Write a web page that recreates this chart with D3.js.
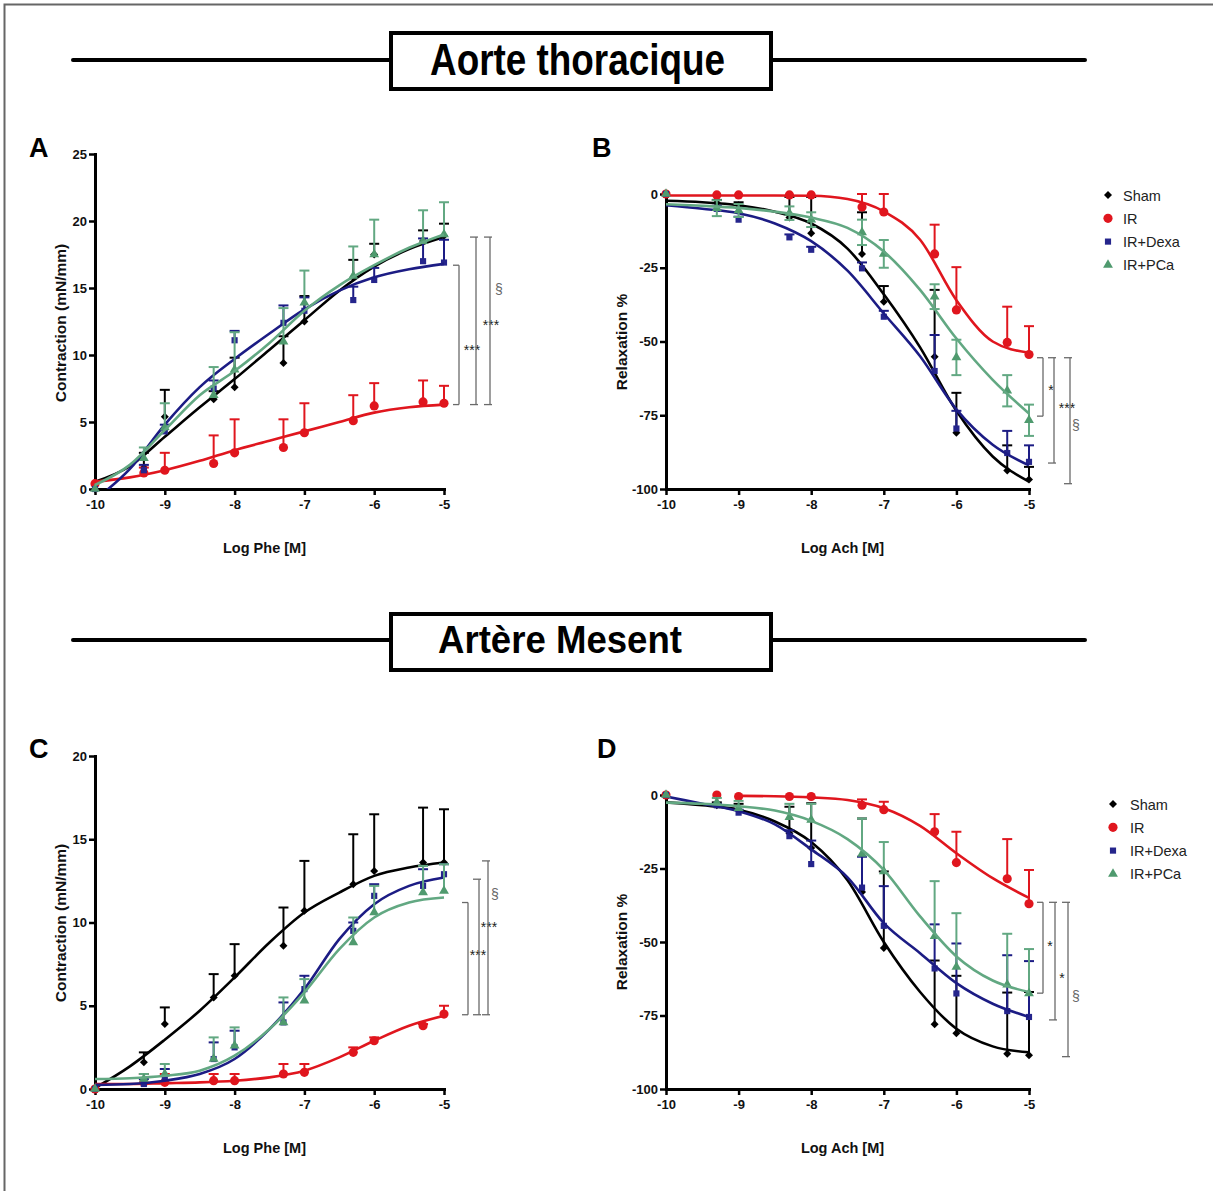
<!DOCTYPE html>
<html><head><meta charset="utf-8">
<script src="https://cdn.jsdelivr.net/npm/d3@7"></script>
<style>
body{margin:0;background:#fff}
text{font-family:"Liberation Sans",Arial,Helvetica,sans-serif}
</style>
</head><body>
<svg id="c" width="1213" height="1191"></svg>
<script>
// ---------------- DATA ----------------
const seriesNames = ["Sham", "IR", "IR+Dexa", "IR+PCa"];
const sectionTitles = ["Aorte thoracique", "Artère Mesent"];
const panelLetters = ["A", "B", "C", "D"];
const xTicks = [-10, -9, -8, -7, -6, -5];
const doseX = [-10, -9.3, -9, -8.3, -8, -7.3, -7, -6.3, -6, -5.3, -5];
const fitX = [-10, -9.5, -9, -8.5, -8, -7.5, -7, -6.5, -6, -5.5, -5];
const yTicksContrA = [0, 5, 10, 15, 20, 25];
const yTicksContrC = [0, 5, 10, 15, 20];
const yTicksRelax = [0, -25, -50, -75, -100];

// Panel A : contraction, aorta (mN/mm)
const aSham = [0, 1.6, 5.4, 6.7, 7.6, 9.4, 12.5, 15.8, 17.5, 18.5, 18.9];
const aShamSem = [0, 1.1, 2.0, 0.6, 2.2, 2.0, 1.9, 1.3, 0.8, 0.8, 0.9];
const aIR = [0.4, 1.2, 1.4, 1.9, 2.7, 3.1, 4.2, 5.1, 6.2, 6.5, 6.4];
const aIRSem = [0, 0.4, 1.3, 2.1, 2.5, 2.1, 2.2, 1.9, 1.7, 1.6, 1.3];
const aDexa = [0, 1.4, 4.3, 7.5, 11.1, 12.4, 13.3, 14.1, 15.6, 17.0, 16.9];
const aDexaSem = [0, 0.4, 0.5, 0.6, 0.7, 1.3, 1.0, 1.0, 0.9, 1.7, 1.7];
const aPCa = [0, 2.3, 4.6, 7.0, 8.9, 11.0, 13.9, 15.9, 17.5, 18.5, 19.0];
const aPCaSem = [0, 0.8, 1.8, 2.1, 2.8, 2.5, 2.4, 2.2, 2.6, 2.3, 2.4];
const aShamFit = [0.55, 1.7, 3.9, 6.1, 8.2, 10.4, 12.6, 14.8, 16.6, 17.9, 18.8];
const aIRFit = [0.55, 0.87, 1.4, 2.1, 2.9, 3.6, 4.3, 5.0, 5.7, 6.1, 6.3];
const aDexaFit = [-0.8, 1.5, 4.8, 7.6, 9.7, 11.6, 13.4, 14.8, 15.8, 16.4, 16.8];
const aPCaFit = [0.3, 1.8, 4.4, 7.0, 8.8, 10.9, 13.3, 15.2, 16.7, 18.0, 19.0];

// Panel B : relaxation, aorta (%)
const bSham = [0, -3, -3.8, -8, -13.3, -20.3, -36.5, -55.2, -80.9, -93.7, -96.8];
const bShamSem = [0, 1, 1, 7, 12.3, 14.1, 5.3, 22.7, 13.5, 8.5, 4.3];
const bIR = [0, -0.3, -0.3, -0.3, -0.3, -4.4, -6.1, -20.3, -39.3, -50.3, -54.4];
const bIRSem = [0, 0, 0, 0, 0, 4.4, 6.1, 9.9, 14.5, 12.1, 9.6];
const bDexa = [0, -5, -8.7, -14.7, -18.9, -25.2, -41.6, -60, -79.5, -87.8, -90.8];
const bDexaSem = [0, 1, 1, 1, 1, 2, 2, 12.2, 6, 7.5, 5.6];
const bPCa = [0, -4.8, -5.6, -6.5, -8.7, -13, -20.3, -34.8, -55.4, -66.7, -76.7];
const bPCaSem = [0, 2.7, 2.2, 2.3, 2.5, 4.3, 4.7, 4.2, 6, 5.3, 5.3];
const bShamFit = [-2.3, -2.8, -3.8, -6, -10, -18.5, -34, -52, -73.5, -89, -97.5];
const bIRFit = [-0.5, -0.5, -0.5, -0.5, -0.6, -1.7, -5.9, -15.5, -36, -50, -53.8];
const bDexaFit = [-3.8, -5, -6.5, -10, -16, -26, -40.5, -55, -73, -85, -92];
const bPCaFit = [-3.5, -4, -4.7, -6, -8, -11.5, -19.5, -32.5, -49, -63, -74.4];

// Panel C : contraction, mesenteric artery (mN/mm)
const cSham = [0, 1.6, 3.9, 5.5, 6.8, 8.6, 10.7, 12.3, 13.1, 13.6, 13.6];
const cShamSem = [0, 0.6, 1.0, 1.4, 1.9, 2.3, 3.0, 3.0, 3.4, 3.3, 3.2];
const cIR = [0, 0.4, 0.4, 0.5, 0.5, 0.9, 1.0, 2.2, 2.9, 3.8, 4.5];
const cIRSem = [0, 0.5, 0.5, 0.4, 0.4, 0.6, 0.5, 0.3, 0.2, 0.1, 0.5];
const cDexa = [0, 0.3, 0.7, 1.8, 2.5, 4.0, 6.0, 9.5, 11.6, 12.2, 12.9];
const cDexaSem = [0, 0.3, 0.5, 1.0, 1.0, 1.2, 0.8, 0.5, 0.7, 1.0, 0.6];
const cPCa = [0, 0.6, 0.9, 1.8, 2.6, 4.0, 5.3, 8.8, 10.6, 11.8, 11.9];
const cPCaSem = [0, 0.3, 0.6, 1.3, 1.1, 1.5, 1.3, 1.5, 1.6, 1.6, 1.6];
const cShamFit = [0.06, 1.36, 2.96, 4.7, 6.7, 8.8, 10.6, 11.8, 12.8, 13.3, 13.6];
const cIRFit = [0.3, 0.3, 0.35, 0.4, 0.5, 0.7, 1.1, 1.9, 2.9, 3.8, 4.4];
const cDexaFit = [0.25, 0.3, 0.5, 0.9, 1.8, 3.6, 6.0, 9.0, 11.1, 12.2, 12.7];
const cPCaFit = [0.6, 0.65, 0.8, 1.1, 2.0, 3.6, 5.8, 8.4, 10.3, 11.2, 11.5];

// Panel D : relaxation, mesenteric artery (%)
const dSham = [0, -3.5, -5, -13, -18, -33, -52, -78, -81, -88, -88.5];
const dShamSem = [0, 1, 2, 9, 15.2, 25, 26, 21.7, 19.5, 20.8, 21.5];
const dIR = [0, 0, -0.5, -0.5, -0.5, -3.5, -5, -12.5, -23, -28.5, -37];
const dIRSem = [0, 0, 0, 0, 0, 2, 2.7, 6, 10.5, 13.5, 11.5];
const dDexa = [0, -3.5, -6, -14, -23.5, -31.5, -44.5, -59, -67.5, -73.5, -75.5];
const dDexaSem = [0, 0.5, 1, 2, 8, 10.5, 13.5, 15, 17, 19, 19];
const dPCa = [0, -2.5, -4.5, -7.5, -8.5, -20, -26, -48, -58.5, -64.5, -67.5];
const dPCaSem = [0, 1.5, 2.5, 4.5, 5.5, 12, 10, 18.7, 18.3, 17.3, 15.1];
const dShamFit = [-2.5, -3.5, -5, -9, -16, -29, -50, -67, -79.5, -85.5, -87.5];
const dIRFit = [null, null, -0.3, -0.4, -0.8, -1.7, -4.5, -10.5, -19.8, -28.3, -35];
const dDexaFit = [-0.5, -3, -5.5, -10, -18.5, -28, -43.6, -53.8, -64, -71, -75.5];
const dPCaFit = [-2.6, -3, -3.8, -5.3, -8.8, -15, -25.5, -41.3, -54.9, -63.1, -67];

// Significance brackets: [top value, bottom value, label, label value]
const aBrackets = [[16.7, 6.3, "***", 10.6], [18.8, 6.3, "***", 12.5], [18.8, 6.3, "§", 14.9]];
const bBrackets = [[-55.5, -75.3, "*", -65.4], [-55.5, -91.2, "***", -71.5], [-55.5, -98.2, "§", -78.3]];
const cBrackets = [[11.2, 4.46, "***", 8.2], [12.6, 4.46, "***", 9.9], [13.7, 4.46, "§", 11.7]];
const dBrackets = [[-36.5, -67.4, "*", -50.3], [-36.5, -76.5, "*", -61.2], [-36.5, -89, "§", -68.5]];

// ---------------- STYLE / LAYOUT ----------------
const curveColors = ["#000000", "#e0161e", "#1c1c84", "#62a882"];
const markerColors = ["#000000", "#e0161e", "#25258c", "#4f9a6e"];
const FONT = '"Liberation Sans",Arial,Helvetica,sans-serif';

const svg = d3.select("#c");
svg.append("rect").attr("width", 1213).attr("height", 1191).attr("fill", "#fff");
// outer frame (clipped at right/bottom)
svg.append("rect").attr("x", 4.5).attr("y", 4.5).attr("width", 1400).attr("height", 1400)
  .attr("fill", "none").attr("stroke", "#666").attr("stroke-width", 2);

// Section headers
function header(txt, yMid, boxTop, boxBot, opts) {
  const g = svg.append("g");
  g.append("line").attr("x1", 73).attr("x2", 390).attr("y1", yMid).attr("y2", yMid)
    .attr("stroke", "#000").attr("stroke-width", 4).attr("stroke-linecap", "round");
  g.append("line").attr("x1", 771).attr("x2", 1085).attr("y1", yMid).attr("y2", yMid)
    .attr("stroke", "#000").attr("stroke-width", 4).attr("stroke-linecap", "round");
  g.append("rect").attr("x", 391).attr("y", boxTop).attr("width", 380).attr("height", boxBot - boxTop)
    .attr("fill", "#fff").attr("stroke", "#000").attr("stroke-width", 4);
  g.append("text").attr("x", opts.x).attr("y", opts.base)
    .attr("font-size", opts.size).attr("font-weight", "bold")
    .style("font-family", opts.family)
    .attr("textLength", opts.len).attr("lengthAdjust", "spacingAndGlyphs")
    .text(txt);
}
header(sectionTitles[0], 60, 33, 89, {x: 430, base: 75, size: 45, len: 295,
  family: '"Liberation Sans Narrow","Arial Narrow","Liberation Sans",Arial,sans-serif'});
header(sectionTitles[1], 640, 614, 670, {x: 438, base: 653, size: 38, len: 244, family: FONT});

// Panels
const panels = [
  {letter: panelLetters[0], lx: 29, ly: 157, x0: 95, x1: 444, yTop: 154, yBot: 489, yDom: [0, 25], yTicks: yTicksContrA,
   yLabel: "Contraction (mN/mm)", yLabX: 66, yLabC: 323, xLabel: "Log Phe [M]", xLabY: 553,
   means: [aSham, aIR, aDexa, aPCa], sems: [aShamSem, aIRSem, aDexaSem, aPCaSem],
   fits: [aShamFit, aIRFit, aDexaFit, aPCaFit], both: [false, false, false, false],
   brackets: aBrackets, bOff: [15, 32, 46], lOff: [13, 15, 9], legend: null},
  {letter: panelLetters[1], lx: 592, ly: 157, x0: 666, x1: 1029, yTop: 194, yBot: 489, yDom: [-100, 0], yTicks: yTicksRelax,
   yLabel: "Relaxation %", yLabX: 627, yLabC: 342, xLabel: "Log Ach [M]", xLabY: 553,
   means: [bSham, bIR, bDexa, bPCa], sems: [bShamSem, bIRSem, bDexaSem, bPCaSem],
   fits: [bShamFit, bIRFit, bDexaFit, bPCaFit], both: [false, false, false, true],
   brackets: bBrackets, bOff: [14, 25, 41], lOff: [8, 13, 6], legend: {mx: 1108, tx: 1123, y0: 195}},
  {letter: panelLetters[2], lx: 29, ly: 758, x0: 95, x1: 444, yTop: 756, yBot: 1089, yDom: [0, 20], yTicks: yTicksContrC,
   yLabel: "Contraction (mN/mm)", yLabX: 66, yLabC: 923, xLabel: "Log Phe [M]", xLabY: 1153,
   means: [cSham, cIR, cDexa, cPCa], sems: [cShamSem, cIRSem, cDexaSem, cPCaSem],
   fits: [cShamFit, cIRFit, cDexaFit, cPCaFit], both: [false, false, false, false],
   brackets: cBrackets, bOff: [24, 35, 44], lOff: [10, 10, 7], legend: null},
  {letter: panelLetters[3], lx: 597, ly: 758, x0: 666, x1: 1029, yTop: 795, yBot: 1089, yDom: [-100, 0], yTicks: yTicksRelax,
   yLabel: "Relaxation %", yLabX: 627, yLabC: 942, xLabel: "Log Ach [M]", xLabY: 1153,
   means: [dSham, dIR, dDexa, dPCa], sems: [dShamSem, dIRSem, dDexaSem, dPCaSem],
   fits: [dShamFit, dIRFit, dDexaFit, dPCaFit], both: [false, false, false, false],
   brackets: dBrackets, bOff: [14, 26, 39], lOff: [7, 7, 8], legend: {mx: 1113, tx: 1130, y0: 804}}
];

function markerPath(i) {
  if (i === 0) return d3.symbol(d3.symbolSquare, 32)();
  if (i === 1) return d3.symbol(d3.symbolCircle, 66)();
  if (i === 2) return d3.symbol(d3.symbolSquare, 38)();
  return d3.symbol(d3.symbolTriangle, 42)();
}
function markerRot(i) { return i === 0 ? " rotate(45)" : ""; }

panels.forEach((p, pi) => {
  const g = svg.append("g");
  const x = d3.scaleLinear().domain([-10, -5]).range([p.x0, p.x1]);
  const y = d3.scaleLinear().domain(p.yDom).range([p.yBot, p.yTop]);

  // panel letter
  g.append("text").attr("x", p.lx).attr("y", p.ly).attr("font-size", 27).attr("font-weight", "bold").text(p.letter);

  // clip for fitted curves
  const cid = "clip" + pi;
  svg.append("clipPath").attr("id", cid).append("rect")
    .attr("x", p.x0 - 5).attr("y", p.yTop - 40).attr("width", p.x1 - p.x0 + 10).attr("height", p.yBot - p.yTop + 40);

  // axes
  const gx = g.append("g").attr("transform", `translate(0,${p.yBot})`)
    .call(d3.axisBottom(x).tickValues(xTicks).tickSize(6).tickSizeOuter(0).tickPadding(5).tickFormat(d => String(d)));
  const gy = g.append("g").attr("transform", `translate(${p.x0},0)`)
    .call(d3.axisLeft(y).tickValues(p.yTicks).tickSize(6).tickSizeOuter(0).tickPadding(2).tickFormat(d => String(d)));
  [gx, gy].forEach(a => {
    a.select(".domain").attr("stroke-width", 3).attr("stroke-linecap", "square");
    a.selectAll(".tick line").attr("stroke-width", 2.5);
    a.selectAll(".tick text").attr("font-size", 13).attr("font-weight", "bold").attr("fill", "#111");
  });

  // axis titles
  g.append("text").attr("transform", `translate(${p.yLabX},${p.yLabC}) rotate(-90)`)
    .attr("text-anchor", "middle").attr("font-size", 15.5).attr("font-weight", "bold").attr("fill", "#111").text(p.yLabel);
  g.append("text").attr("x", (p.x0 + p.x1) / 2 - 5).attr("y", p.xLabY)
    .attr("text-anchor", "middle").attr("font-size", 14.5).attr("font-weight", "bold").attr("fill", "#111").text(p.xLabel);

  // series
  const line = d3.line().defined(d => d[1] !== null).x(d => x(d[0])).y(d => y(d[1])).curve(d3.curveMonotoneX);
  for (let si = 0; si < 4; si++) {
    const sg = g.append("g");
    const pts = doseX.map((dx, k) => ({x: dx, m: p.means[si][k], s: p.sems[si][k]}));
    // error bars
    pts.filter(d => d.s > 0).forEach(d => {
      const ends = p.both[si] ? [d.m + d.s, d.m - d.s] : [d.m + d.s];
      ends.forEach(e => {
        sg.append("line").attr("x1", x(d.x)).attr("x2", x(d.x)).attr("y1", y(d.m)).attr("y2", y(e))
          .attr("stroke", curveColors[si]).attr("stroke-width", 2);
        sg.append("line").attr("x1", x(d.x) - 5).attr("x2", x(d.x) + 5).attr("y1", y(e)).attr("y2", y(e))
          .attr("stroke", curveColors[si]).attr("stroke-width", 2);
      });
    });
    // markers
    sg.selectAll("path.mk").data(pts).join("path").attr("class", "mk")
      .attr("d", markerPath(si))
      .attr("transform", d => `translate(${x(d.x)},${y(d.m)})${markerRot(si)}`)
      .attr("fill", markerColors[si]);
    // fitted curve
    sg.append("path").datum(fitX.map((fx, k) => [fx, p.fits[si][k]]))
      .attr("d", line).attr("fill", "none").attr("stroke", curveColors[si]).attr("stroke-width", 2.6)
      .attr("clip-path", `url(#${cid})`);
  }

  // brackets
  p.brackets.forEach((b, bi) => {
    const bx = p.x1 + p.bOff[bi];
    const col = "#6a6a6a";
    g.append("line").attr("x1", bx).attr("x2", bx).attr("y1", y(b[0])).attr("y2", y(b[1])).attr("stroke", col).attr("stroke-width", 1.3);
    g.append("line").attr("x1", bx - 6).attr("x2", bx + (bi ? 2 : 0)).attr("y1", y(b[0])).attr("y2", y(b[0])).attr("stroke", col).attr("stroke-width", 1.3);
    g.append("line").attr("x1", bx - 6).attr("x2", bx + (bi ? 2 : 0)).attr("y1", y(b[1])).attr("y2", y(b[1])).attr("stroke", col).attr("stroke-width", 1.3);
    const isSec = b[2] === "§";
    g.append("text").attr("x", bx + p.lOff[bi]).attr("y", y(b[3]) + (isSec ? 5 : 8))
      .attr("text-anchor", "middle").attr("font-size", 14)
      .attr("fill", isSec ? "#666" : "#222").text(b[2]);
  });

  // legend
  if (p.legend) {
    seriesNames.forEach((nm, si) => {
      const ly = p.legend.y0 + si * 23.3;
      g.append("path").attr("d", markerPath(si))
        .attr("transform", `translate(${p.legend.mx},${ly})${markerRot(si)}`).attr("fill", markerColors[si]);
      g.append("text").attr("x", p.legend.tx).attr("y", ly + 5.5).attr("font-size", 14.5).attr("fill", "#222").text(nm);
    });
  }
});
</script>
</body></html>
